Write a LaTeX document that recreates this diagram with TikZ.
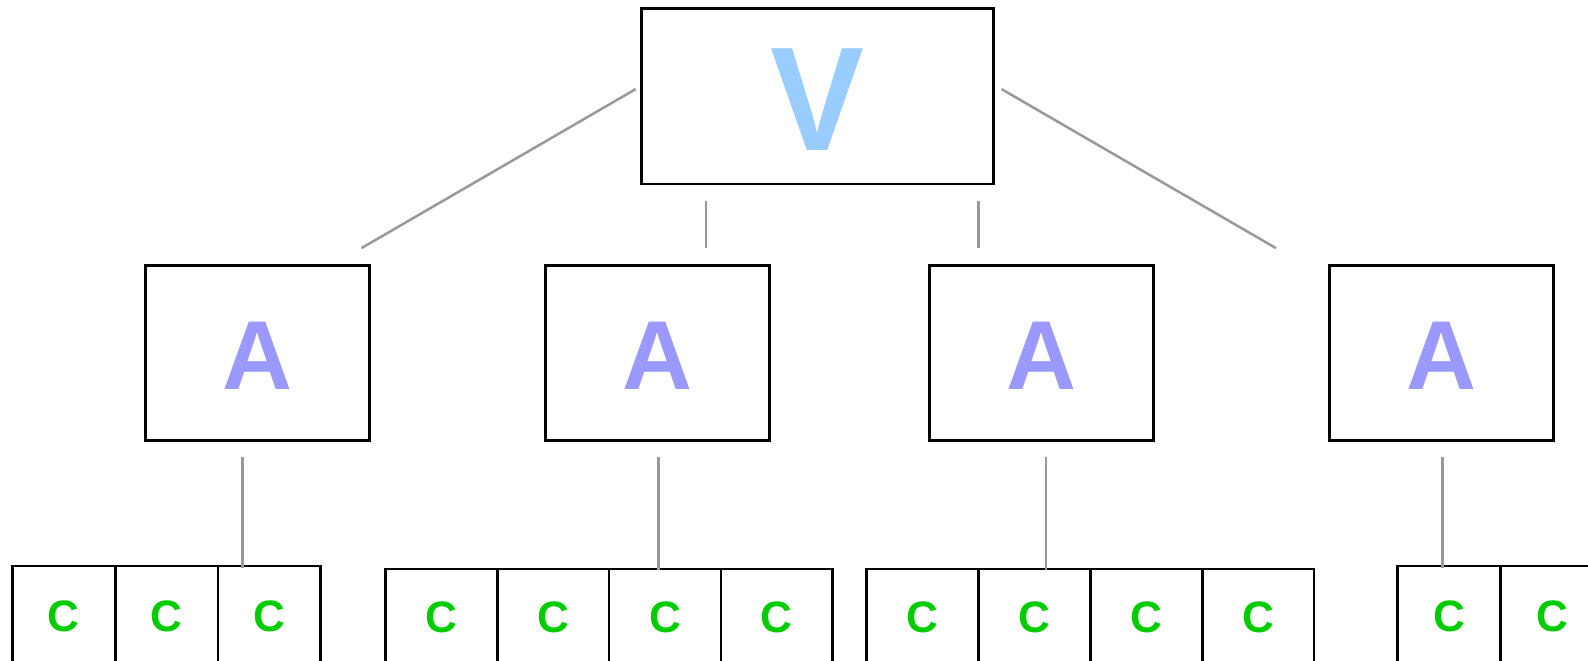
\documentclass[tikz,border=0pt]{standalone}
\usepackage{fontspec}
\setmainfont{Liberation Sans}
\definecolor{vcol}{HTML}{99CCFF}
\definecolor{acol}{HTML}{9999FF}
\definecolor{ccol}{HTML}{00CC00}
\definecolor{lcol}{HTML}{999999}
\begin{document}
\begin{tikzpicture}[x=1pt,y=-1pt,
  box/.style={draw=black,line width=2.7pt,inner sep=0pt,rectangle},
  vbox/.style={box,minimum width=351.6pt,minimum height=175.7pt,
    label={[text=vcol,inner sep=0pt,yshift=-3.5pt,font=\fontsize{145}{145}\selectfont\bfseries]center:\scalebox{0.97}[1.02]{V}}},
  abox/.style={box,minimum width=223.8pt,minimum height=175.2pt,
    label={[text=acol,inner sep=0pt,yshift=-2.5pt,font=\fontsize{97}{97}\selectfont\bfseries]center:\scalebox{1}[1.01]{A}}},
  cbox/.style={box,text=ccol,font=\fontsize{44}{44}\selectfont\bfseries},
  cn/.style={cbox,minimum width=102.8pt,minimum height=100pt},
  cw/.style={cbox,minimum width=111.8pt,minimum height=97pt},
  link/.style={draw=lcol,line width=2.5pt}]
\useasboundingbox (0,0) rectangle (1588,661);
\clip (0,0) rectangle (1588,661);
\node[vbox] (v) at (817.5,96.2) {};
\node[abox] (a1) at (257.7,352.9) {};
\node[abox] (a2) at (657.7,352.9) {};
\node[abox] (a3) at (1041.5,352.9) {};
\node[abox] (a4) at (1441.4,352.9) {};
% group 1
\node[cn] (c11) at (63.8,616) {C};
\node[cn] (c12) at (166.6,616) {C};
\node[cn] (c13) at (269.4,616) {C};
% group 2
\node[cw] (c21) at (441.4,617.5) {C};
\node[cw] (c22) at (553.2,617.5) {C};
\node[cw] (c23) at (665.0,617.5) {C};
\node[cw] (c24) at (776.8,617.5) {C};
% group 3
\node[cw] (c31) at (922.7,617.5) {C};
\node[cw] (c32) at (1034.5,617.5) {C};
\node[cw] (c33) at (1146.3,617.5) {C};
\node[cw] (c34) at (1258.1,617.5) {C};
% group 4
\node[cn] (c41) at (1449.2,616) {C};
\node[cn] (c42) at (1552.0,616) {C};
% connector ends
\coordinate (p1) at (635.7,89.1);  \coordinate (q1) at (361.5,248.1);
\coordinate (p2) at (706,201);     \coordinate (q2) at (706,248);
\coordinate (p3) at (978.3,201);   \coordinate (q3) at (978.3,248);
\coordinate (p4) at (1001.5,89.1); \coordinate (q4) at (1275.9,248.1);
\coordinate (r1) at (242.3,456.7); \coordinate (s1) at (242.3,568.3);
\coordinate (r2) at (658.3,456.7); \coordinate (s2) at (658.3,569.5);
\coordinate (r3) at (1046,456.7);  \coordinate (s3) at (1046,569.5);
\coordinate (r4) at (1442.3,456.7);\coordinate (s4) at (1442.3,568.3);
\draw[link] (p1) -- (q1);
\draw[link] (p2) -- (q2);
\draw[link] (p3) -- (q3);
\draw[link] (p4) -- (q4);
\draw[link] (r1) -- (s1);
\draw[link] (r2) -- (s2);
\draw[link] (r3) -- (s3);
\draw[link] (r4) -- (s4);
\end{tikzpicture}
\end{document}
